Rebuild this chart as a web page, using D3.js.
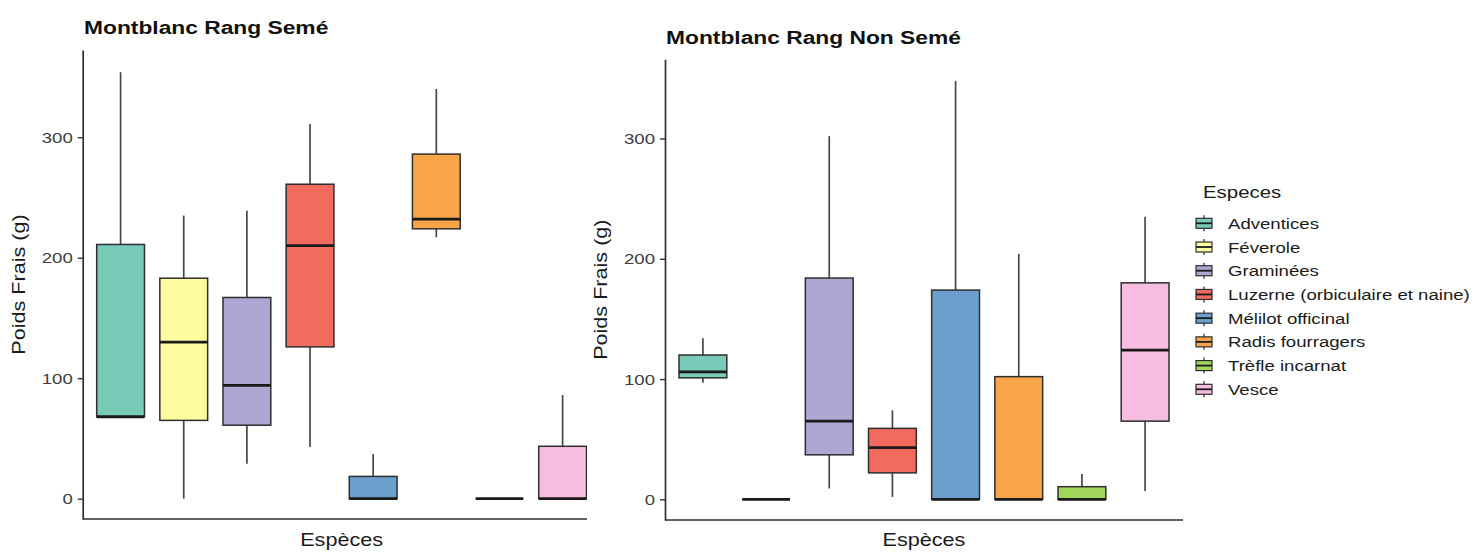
<!DOCTYPE html>
<html>
<head>
<meta charset="utf-8">
<script src="https://cdn.jsdelivr.net/npm/d3@7"></script>
<style>
  html, body { margin: 0; padding: 0; background: #ffffff; }
  svg { display: block; }
  text { font-family: "Liberation Sans", Arial, Helvetica, sans-serif; }
</style>
</head>
<body>
<svg id="chart" width="1473" height="553"></svg>
<script>
// ---------------- DATA ----------------
const categories = ["Adventices", "Féverole", "Graminées", "Luzerne (orbiculaire et naine)",
                    "Mélilot officinal", "Radis fourragers", "Trèfle incarnat", "Vesce"];
const colors = ["#77cbb7", "#fdfd9f", "#aca8d1", "#f36a5f", "#6aa0cb", "#f8a54a", "#a0d65a", "#f7bde0"];

const panelTitles = ["Montblanc Rang Semé", "Montblanc Rang Non Semé"];
const yTicks = [0, 100, 200, 300];
const yLabel = "Poids Frais (g)";
const xLabel = "Espèces";
const legendTitle = "Especes";

// Montblanc Rang Semé
const semeLow = [68, 0, 29, 43, 0, 217, 0, 0];
const semeQ1  = [68, 65, 61, 126, 0, 224, 0, 0];
const semeMed = [68, 130, 94, 210, 0, 232, 0, 0];
const semeQ3  = [211, 183, 167, 261, 18.5, 286, 0, 43.5];
const semeHigh= [354, 235, 239, 311, 37, 340, 0, 86];

// Montblanc Rang Non Semé
const nonLow  = [97, 0, 9, 2, 0, 0, 0, 7];
const nonQ1   = [101, 0, 37, 22, 0, 0, 0, 65];
const nonMed  = [106, 0, 65, 43, 0, 0, 0, 124];
const nonQ3   = [120, 0, 184, 59, 174, 102, 10.5, 180];
const nonHigh = [134, 0, 302, 74, 348, 204, 21, 235];

// ---------------- DRAW ----------------
const svg = d3.select("#chart");
const SX = 1.2;

function addText(parent, x, y, str, size, opts = {}) {
  const g = parent.append("g").attr("transform",
    `translate(${x},${y})` + (opts.rotate ? ` rotate(${opts.rotate})` : "") + ` scale(${opts.sx || SX},1)`);
  const t = g.append("text")
    .attr("x", 0).attr("y", 0)
    .attr("font-size", size)
    .attr("fill", opts.fill || "#000")
    .attr("font-weight", opts.bold ? "bold" : "normal")
    .attr("text-anchor", opts.anchor || "start")
    .text(str);
  return t;
}

function buildStats(lo, q1, md, q3, hi) {
  return categories.map((c, i) => ({ cat: c, color: colors[i], lo: lo[i], q1: q1[i], med: md[i], q3: q3[i], hi: hi[i] }));
}

const panels = [
  { title: panelTitles[0], stats: buildStats(semeLow, semeQ1, semeMed, semeQ3, semeHigh),
    x0: 82.7, x1: 600.5, yTop: 50, yBot: 519, yDomain: [-16.85, 372.4],
    titleX: 84, titleY: 33.5, yLabX: 25, clipRight: 587 },
  { title: panelTitles[1], stats: buildStats(nonLow, nonQ1, nonMed, nonQ3, nonHigh),
    x0: 665, x1: 1183, yTop: 59.3, yBot: 520, yDomain: [-17.2, 365.9],
    titleX: 666, titleY: 44, yLabX: 607, clipRight: 1473 }
];

const defs = svg.append("defs");

panels.forEach((p, pi) => {
  const g = svg.append("g");
  const clipId = "clip" + pi;
  defs.append("clipPath").attr("id", clipId)
    .append("rect").attr("x", 0).attr("y", 0).attr("width", p.clipRight).attr("height", 553);
  const pg = g.append("g").attr("clip-path", `url(#${clipId})`);

  const x = d3.scalePoint().domain(categories).range([p.x0, p.x1]).padding(0.6);
  const y = d3.scaleLinear().domain(p.yDomain).range([p.yBot, p.yTop]);
  const bw = x.step() * 0.757;

  // boxes
  const box = pg.selectAll("g.box").data(p.stats).join("g").attr("class", "box");
  box.append("line")
    .attr("x1", d => x(d.cat)).attr("x2", d => x(d.cat))
    .attr("y1", d => y(d.hi)).attr("y2", d => y(d.q3))
    .attr("stroke", "#474747").attr("stroke-width", 1.7);
  box.append("line")
    .attr("x1", d => x(d.cat)).attr("x2", d => x(d.cat))
    .attr("y1", d => y(d.q1)).attr("y2", d => y(d.lo))
    .attr("stroke", "#474747").attr("stroke-width", 1.7);
  box.append("rect")
    .attr("x", d => x(d.cat) - bw / 2).attr("width", bw)
    .attr("y", d => y(d.q3)).attr("height", d => Math.max(0, y(d.q1) - y(d.q3)))
    .attr("fill", d => d.color).attr("stroke", "#2e2e2e").attr("stroke-width", 1.5);
  box.append("line")
    .attr("x1", d => x(d.cat) - bw / 2).attr("x2", d => x(d.cat) + bw / 2)
    .attr("y1", d => y(d.med)).attr("y2", d => y(d.med))
    .attr("stroke", "#1a1a1a").attr("stroke-width", 2.8);

  // x axis line
  pg.append("line").attr("x1", p.x0).attr("x2", p.x1)
    .attr("y1", p.yBot).attr("y2", p.yBot)
    .attr("stroke", "#2e2e2e").attr("stroke-width", 1.7);

  // y axis
  const ya = g.append("g").attr("transform", `translate(${p.x0},0)`)
    .call(d3.axisLeft(y).tickValues(yTicks).tickSize(5).tickSizeOuter(0).tickPadding(5));
  ya.select(".domain").attr("stroke", "#2e2e2e").attr("stroke-width", 1.7);
  ya.selectAll(".tick line").attr("stroke", "#333333").attr("stroke-width", 1.4);
  ya.selectAll(".tick text").each(function(d) {
    const t = d3.select(this);
    t.attr("font-size", 15.5).attr("fill", "#3d3d3d")
     .attr("font-family", '"Liberation Sans", Arial, sans-serif')
     .attr("transform", `translate(-10,0) scale(${SX},1) translate(10,0)`);
  });

  // titles
  addText(g, p.titleX, p.titleY, p.title, 19, { bold: true, fill: "#111" });
  addText(g, (p.x0 + p.x1) / 2, 546, xLabel, 18, { anchor: "middle", fill: "#1a1a1a" });
  addText(g, p.yLabX, (p.yTop + p.yBot) / 2, yLabel, 18, { anchor: "middle", rotate: -90, fill: "#1a1a1a" });
});

// legend
const lg = svg.append("g");
addText(lg, 1203, 198, legendTitle, 17, { fill: "#1a1a1a" });
const ly = d3.scalePoint().domain(categories).range([223.3, 389.3]);
const item = lg.selectAll("g.item").data(categories.map((c, i) => ({ c, col: colors[i] })))
  .join("g").attr("class", "item")
  .attr("transform", d => `translate(1204,${ly(d.c)})`);
item.append("line").attr("x1", 0).attr("x2", 0).attr("y1", -8).attr("y2", 8)
  .attr("stroke", "#474747").attr("stroke-width", 1.4);
item.append("rect").attr("x", -8).attr("y", -5).attr("width", 16).attr("height", 10)
  .attr("fill", d => d.col).attr("stroke", "#2e2e2e").attr("stroke-width", 1.2);
item.append("line").attr("x1", -8).attr("x2", 8).attr("y1", 0).attr("y2", 0)
  .attr("stroke", "#1a1a1a").attr("stroke-width", 1.8);
item.each(function(d) {
  addText(d3.select(this), 24, 5.5, d.c, 15.5, { fill: "#1a1a1a" });
});
</script>
</body>
</html>
